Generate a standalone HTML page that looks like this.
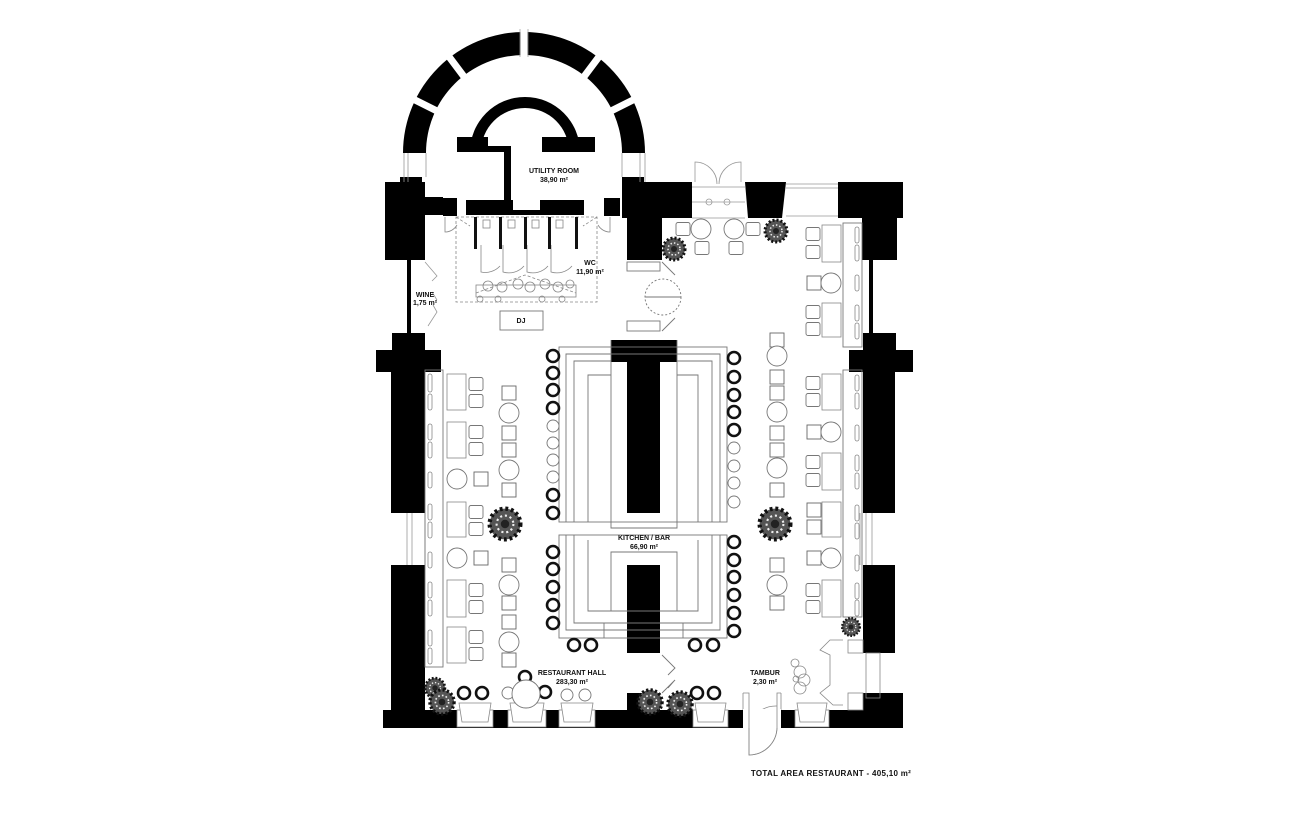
<!DOCTYPE html>
<html><head><meta charset="utf-8"><style>
html,body{margin:0;padding:0;background:#fff;width:1300px;height:813px;overflow:hidden}
svg{display:block}
text{font-family:"Liberation Sans",sans-serif;font-weight:bold;fill:#111;text-anchor:middle}
</style></head><body>
<svg width="1300" height="813" viewBox="0 0 1300 813" xmlns="http://www.w3.org/2000/svg">
<defs>
<g id="sb"><circle r="6" fill="#fff" stroke="#111" stroke-width="2.6"/></g>
<g id="st"><circle r="6" fill="#fff" stroke="#777" stroke-width="0.9"/></g>
<g id="ch"><rect x="-7" y="-6.5" width="14" height="13" rx="2" fill="#fff" stroke="#777" stroke-width="0.9"/></g>
<g id="sq"><rect x="-7" y="-7" width="14" height="14" fill="#fff" stroke="#666" stroke-width="0.9"/></g>
<g id="rt"><circle r="10" fill="#fff" stroke="#777" stroke-width="0.9"/></g>
<g id="pl"><circle r="11" fill="#555"/><circle r="11" fill="none" stroke="#111" stroke-width="3" stroke-dasharray="2 2"/><circle r="6" fill="none" stroke="#eee" stroke-width="1.5" stroke-dasharray="1.5 2"/><circle r="3" fill="#222"/></g>
</defs>
<g fill="#000">
<path d="M403,153 A121,121 0 0 1 645,153 L622,153 A98,98 0 0 0 426,153 Z"/>
<path d="M470,152 A55,55 0 0 1 580,152 L569,152 A44,44 0 0 0 481,152 Z"/>
<rect x="457" y="137" width="31" height="15"/>
<rect x="486" y="146" width="24" height="6"/>
<rect x="504" y="146" width="7" height="56"/>
<rect x="542" y="137" width="53" height="15"/>
<rect x="466" y="200" width="47" height="15"/>
<rect x="540" y="200" width="44" height="15"/>
<rect x="513" y="210" width="27" height="5"/>
<rect x="443" y="198" width="14" height="18"/>
<rect x="604" y="198" width="16" height="18"/>
<rect x="385" y="182" width="40" height="78"/>
<rect x="400" y="177" width="22" height="6"/>
<rect x="420" y="197" width="23" height="18"/>
<rect x="407" y="260" width="4" height="75"/>
<rect x="622" y="177" width="22" height="6"/>
<rect x="622" y="182" width="70" height="36"/>
<rect x="627" y="182" width="35" height="78"/>
<path d="M745,182 L786,182 L782,218 L748,218 Z"/>
<rect x="838" y="182" width="65" height="36"/>
<rect x="862" y="182" width="35" height="78"/>
<rect x="869" y="260" width="4" height="75"/>
<rect x="392" y="333" width="33" height="20"/>
<rect x="376" y="350" width="65" height="22"/>
<rect x="391" y="370" width="34" height="143"/>
<rect x="391" y="565" width="34" height="145"/>
<rect x="863" y="333" width="33" height="20"/>
<rect x="849" y="350" width="64" height="22"/>
<rect x="863" y="370" width="32" height="143"/>
<rect x="863" y="565" width="32" height="88"/>
<rect x="863" y="693" width="40" height="20"/>
<rect x="611" y="340" width="66" height="22"/>
<rect x="627" y="340" width="33" height="173"/>
<rect x="627" y="565" width="33" height="88"/>
<rect x="627" y="693" width="33" height="20"/>
<rect x="383" y="710" width="520" height="18"/>
</g>
<g stroke="#fff" stroke-width="7">
<line x1="524" y1="57" x2="524" y2="29"/>
<line x1="465" y1="78" x2="447" y2="54"/>
<line x1="583" y1="78" x2="601" y2="54"/>
<line x1="437" y1="111" x2="411" y2="98"/>
<line x1="611" y1="111" x2="637" y2="98"/>
</g>
<g stroke="#999" stroke-width="0.7">
<line x1="520" y1="57" x2="520" y2="29"/><line x1="528" y1="57" x2="528" y2="29"/>
</g>
<g fill="none" stroke="#999" stroke-width="0.8">
<line x1="404" y1="153" x2="404" y2="182"/><line x1="426" y1="153" x2="426" y2="177"/>
<line x1="408" y1="153" x2="408" y2="182"/>
<line x1="622" y1="153" x2="622" y2="177"/><line x1="645" y1="153" x2="645" y2="182"/><line x1="640" y1="153" x2="640" y2="182"/>
<line x1="786" y1="184" x2="838" y2="184"/><line x1="786" y1="188" x2="838" y2="188"/><line x1="786" y1="216" x2="838" y2="216"/>
<path d="M695,182 L695,162 A22,22 0 0 1 717,184"/>
<path d="M741,182 L741,162 A22,22 0 0 0 719,184"/>
<line x1="692" y1="187" x2="745" y2="187"/><line x1="692" y1="202" x2="745" y2="202"/><line x1="692" y1="218" x2="745" y2="218"/>
<circle cx="709" cy="202" r="3"/><circle cx="727" cy="202" r="3"/>
<path d="M425,262 L437,276 L432,281 M432,292 L437,300 M433,305 L437,312 L428,326"/>
<line x1="407" y1="513" x2="407" y2="565"/><line x1="412" y1="513" x2="412" y2="565"/><line x1="425" y1="513" x2="425" y2="565"/>
<line x1="866" y1="513" x2="866" y2="565"/><line x1="872" y1="513" x2="872" y2="565"/><line x1="860" y1="513" x2="860" y2="565"/>
</g>
<g fill="none" stroke="#888" stroke-width="0.8">
<rect x="456" y="217" width="141" height="85" stroke-dasharray="3 2"/>
<path d="M456,217 L470,226 M597,217 L583,226" stroke-dasharray="3 2"/>
<path d="M481,245 L481,272 A20,20 0 0 0 500,266"/>
<path d="M503,245 L503,272 A20,20 0 0 0 524,266"/>
<path d="M527,245 L527,272 A20,20 0 0 0 548,266"/>
<path d="M551,245 L551,272 A20,20 0 0 0 572,266"/>
<rect x="483" y="220" width="7" height="8"/><rect x="508" y="220" width="7" height="8"/><rect x="532" y="220" width="7" height="8"/><rect x="556" y="220" width="7" height="8"/>
<path d="M476,293 L525,275 L576,293" stroke-dasharray="3 2"/>
<rect x="476" y="285" width="100" height="12"/>
<circle cx="488" cy="286" r="5"/><circle cx="502" cy="287" r="5"/><circle cx="518" cy="284" r="5"/><circle cx="530" cy="287" r="5"/><circle cx="545" cy="284" r="5"/><circle cx="558" cy="287" r="5"/><circle cx="570" cy="284" r="4"/>
<circle cx="480" cy="299" r="3"/><circle cx="498" cy="299" r="3"/><circle cx="542" cy="299" r="3"/><circle cx="562" cy="299" r="3"/>
<path d="M445,217 L445,232 A14,14 0 0 0 457,225"/>
<path d="M610,217 L610,232 A14,14 0 0 1 598,225"/>
</g>
<g fill="#111"><rect x="474" y="217" width="3" height="32"/><rect x="499" y="217" width="3" height="32"/><rect x="524" y="217" width="3" height="32"/><rect x="548" y="217" width="3" height="32"/><rect x="575" y="217" width="3" height="32"/></g>
<rect x="500" y="311" width="43" height="19" fill="none" stroke="#777" stroke-width="0.9"/>
<g fill="none" stroke="#777" stroke-width="0.9">
<rect x="627" y="262" width="33" height="9"/><rect x="627" y="321" width="33" height="10"/>
<circle cx="663" cy="297" r="18" stroke-dasharray="2 2"/><line x1="645" y1="297" x2="681" y2="297"/>
<line x1="662" y1="262" x2="675" y2="275"/><line x1="662" y1="331" x2="675" y2="318"/>
<rect x="559" y="347" width="168" height="175"/>
<path d="M566,522 L566,354 L720,354 L720,522"/>
<path d="M574,522 L574,361 L611,361 M677,361 L712,361 L712,522"/>
<path d="M588,522 L588,375 L611,375 M677,375 L698,375 L698,522"/>
<path d="M611,340 L611,528 L677,528 L677,340"/>
<rect x="559" y="535" width="168" height="103"/>
<path d="M566,535 L566,630 L720,630 L720,535"/>
<path d="M574,535 L574,623 L712,623 L712,535"/>
<path d="M588,540 L588,611 L698,611 L698,540"/>
<path d="M611,611 L611,552 L677,552 L677,611"/>
<line x1="604" y1="623" x2="604" y2="638"/><line x1="683" y1="623" x2="683" y2="638"/>
<path d="M662,655 L675,668 L668,675 M668,688 L675,680 L662,693"/>
<rect x="425" y="370" width="18" height="297"/>
<rect x="843" y="223" width="19" height="124"/>
<rect x="843" y="370" width="19" height="247"/>
</g>
<g fill="none" stroke="#888" stroke-width="0.8">
<rect x="428" y="374" width="4" height="18" rx="2"/><rect x="428" y="394" width="4" height="16" rx="2"/>
<rect x="428" y="424" width="4" height="16" rx="2"/><rect x="428" y="442" width="4" height="16" rx="2"/>
<rect x="428" y="472" width="4" height="16" rx="2"/><rect x="428" y="504" width="4" height="16" rx="2"/><rect x="428" y="522" width="4" height="16" rx="2"/>
<rect x="428" y="552" width="4" height="16" rx="2"/><rect x="428" y="582" width="4" height="16" rx="2"/><rect x="428" y="600" width="4" height="16" rx="2"/><rect x="428" y="630" width="4" height="16" rx="2"/><rect x="428" y="648" width="4" height="16" rx="2"/>
<rect x="855" y="227" width="4" height="16" rx="2"/><rect x="855" y="245" width="4" height="16" rx="2"/><rect x="855" y="275" width="4" height="16" rx="2"/><rect x="855" y="305" width="4" height="16" rx="2"/><rect x="855" y="323" width="4" height="16" rx="2"/>
<rect x="855" y="375" width="4" height="16" rx="2"/><rect x="855" y="393" width="4" height="16" rx="2"/><rect x="855" y="425" width="4" height="16" rx="2"/><rect x="855" y="455" width="4" height="16" rx="2"/><rect x="855" y="473" width="4" height="16" rx="2"/><rect x="855" y="505" width="4" height="16" rx="2"/><rect x="855" y="523" width="4" height="16" rx="2"/><rect x="855" y="555" width="4" height="16" rx="2"/><rect x="855" y="583" width="4" height="16" rx="2"/><rect x="855" y="600" width="4" height="16" rx="2"/>
<rect x="447" y="374" width="19" height="36"/><rect x="447" y="422" width="19" height="36"/><rect x="447" y="502" width="19" height="35"/><rect x="447" y="580" width="19" height="37"/><rect x="447" y="627" width="19" height="36"/>
<rect x="822" y="225" width="19" height="37"/><rect x="822" y="303" width="19" height="34"/>
<rect x="822" y="374" width="19" height="36"/><rect x="822" y="453" width="19" height="37"/><rect x="822" y="502" width="19" height="35"/><rect x="822" y="580" width="19" height="37"/>
<path d="M743,693 L743,710 M781,693 L781,710"/>
<path d="M743,693 L749,693 L749,755 A28,28 0 0 0 777,728 L777,693 L781,693" />
<path d="M749,726 A28,28 0 0 1 777,706"/>
<path d="M843,640 L830,640 L820,650 L830,655 L830,685 L820,693 L833,705 L843,705"/>
<rect x="848" y="640" width="15" height="13"/><rect x="848" y="693" width="15" height="17"/>
<rect x="866" y="653" width="14" height="45"/>
<circle cx="795" cy="663" r="4"/><circle cx="800" cy="672" r="6"/><circle cx="804" cy="680" r="6"/><circle cx="796" cy="679" r="3"/><circle cx="800" cy="688" r="6"/>
</g>
<g fill="#fff" stroke="#888" stroke-width="0.8">
<rect x="457" y="710" width="36" height="17"/><rect x="508" y="710" width="38" height="17"/><rect x="559" y="710" width="36" height="17"/><rect x="693" y="710" width="35" height="17"/><rect x="795" y="710" width="34" height="17"/>
<rect x="743" y="709" width="38" height="19" stroke="none"/>
<path d="M459,703 L491,703 L488,722 L462,722 Z"/><path d="M510,703 L544,703 L541,722 L513,722 Z"/><path d="M561,703 L593,703 L590,722 L564,722 Z"/><path d="M695,703 L726,703 L723,722 L698,722 Z"/><path d="M797,703 L827,703 L824,722 L800,722 Z"/>
<path d="M749,709 L749,755 A28,28 0 0 0 777,728 L777,709" fill="none"/>
</g>
<g>
<use href="#sb" x="553" y="356"/><use href="#sb" x="553" y="373"/><use href="#sb" x="553" y="390"/><use href="#sb" x="553" y="408"/>
<use href="#st" x="553" y="426"/><use href="#st" x="553" y="443"/><use href="#st" x="553" y="460"/><use href="#st" x="553" y="477"/>
<use href="#sb" x="553" y="495"/><use href="#sb" x="553" y="513"/>
<use href="#sb" x="553" y="552"/><use href="#sb" x="553" y="569"/><use href="#sb" x="553" y="587"/><use href="#sb" x="553" y="605"/><use href="#sb" x="553" y="623"/>
<use href="#sb" x="734" y="358"/><use href="#sb" x="734" y="377"/><use href="#sb" x="734" y="395"/><use href="#sb" x="734" y="412"/><use href="#sb" x="734" y="430"/>
<use href="#st" x="734" y="448"/><use href="#st" x="734" y="466"/><use href="#st" x="734" y="483"/><use href="#st" x="734" y="502"/>
<use href="#sb" x="734" y="542"/><use href="#sb" x="734" y="560"/><use href="#sb" x="734" y="577"/><use href="#sb" x="734" y="595"/><use href="#sb" x="734" y="613"/><use href="#sb" x="734" y="631"/>
<use href="#sb" x="574" y="645"/><use href="#sb" x="591" y="645"/><use href="#sb" x="695" y="645"/><use href="#sb" x="713" y="645"/>
<use href="#sb" x="464" y="693"/><use href="#sb" x="482" y="693"/><use href="#sb" x="525" y="677"/><use href="#sb" x="545" y="692"/><use href="#st" x="508" y="693"/>
<use href="#st" x="567" y="695"/><use href="#st" x="585" y="695"/><use href="#sb" x="697" y="693"/><use href="#sb" x="714" y="693"/>
</g>
<circle cx="526" cy="694" r="14" fill="#fff" stroke="#777" stroke-width="0.9"/>
<g>
<use href="#ch" x="476" y="384"/><use href="#ch" x="476" y="401"/><use href="#ch" x="476" y="432"/><use href="#ch" x="476" y="449"/>
<use href="#sq" x="481" y="479"/><use href="#rt" x="457" y="479"/>
<use href="#ch" x="476" y="512"/><use href="#ch" x="476" y="529"/>
<use href="#sq" x="481" y="558"/><use href="#rt" x="457" y="558"/>
<use href="#ch" x="476" y="590"/><use href="#ch" x="476" y="607"/><use href="#ch" x="476" y="637"/><use href="#ch" x="476" y="654"/>
<use href="#sq" x="509" y="393"/><use href="#rt" x="509" y="413"/><use href="#sq" x="509" y="433"/><use href="#sq" x="509" y="450"/><use href="#rt" x="509" y="470"/><use href="#sq" x="509" y="490"/>
<use href="#sq" x="509" y="565"/><use href="#rt" x="509" y="585"/><use href="#sq" x="509" y="603"/><use href="#sq" x="509" y="622"/><use href="#rt" x="509" y="642"/><use href="#sq" x="509" y="660"/>
<use href="#sq" x="777" y="340"/><use href="#rt" x="777" y="356"/><use href="#sq" x="777" y="377"/><use href="#sq" x="777" y="393"/><use href="#rt" x="777" y="412"/><use href="#sq" x="777" y="433"/><use href="#sq" x="777" y="450"/><use href="#rt" x="777" y="468"/><use href="#sq" x="777" y="490"/>
<use href="#sq" x="777" y="565"/><use href="#rt" x="777" y="585"/><use href="#sq" x="777" y="603"/>
<use href="#ch" x="813" y="383"/><use href="#ch" x="813" y="400"/><use href="#sq" x="814" y="432"/><use href="#rt" x="831" y="432"/>
<use href="#ch" x="813" y="462"/><use href="#ch" x="813" y="480"/><use href="#sq" x="814" y="510"/><use href="#sq" x="814" y="527"/>
<use href="#sq" x="814" y="558"/><use href="#rt" x="831" y="558"/><use href="#ch" x="813" y="590"/><use href="#ch" x="813" y="607"/>
<use href="#ch" x="813" y="234"/><use href="#ch" x="813" y="252"/><use href="#sq" x="814" y="283"/><use href="#rt" x="831" y="283"/><use href="#ch" x="813" y="312"/><use href="#ch" x="813" y="329"/>
<use href="#ch" x="683" y="229"/><use href="#rt" x="701" y="229"/><use href="#rt" x="734" y="229"/><use href="#ch" x="753" y="229"/>
<use href="#ch" x="702" y="248"/><use href="#ch" x="736" y="248"/>
<use href="#pl" x="776" y="231"/><use href="#pl" x="674" y="249"/>
</g>
<g transform="translate(505 524) scale(1.4)"><use href="#pl"/></g>
<g transform="translate(775 524) scale(1.4)"><use href="#pl"/></g>
<g transform="translate(435 688) scale(0.9)"><use href="#pl"/></g>
<g transform="translate(442 702) scale(1.1)"><use href="#pl"/></g>
<g transform="translate(650 702) scale(1.1)"><use href="#pl"/></g>
<g transform="translate(680 704) scale(1.1)"><use href="#pl"/></g>
<g transform="translate(851 627) scale(0.8)"><use href="#pl"/></g>
<g font-size="7">
<text x="554" y="173">UTILITY ROOM</text><text x="554" y="182">38,90 m²</text>
<text x="590" y="265">WC</text><text x="590" y="274">11,90 m²</text>
<text x="425" y="297">WINE</text><text x="425" y="305">1,75 m²</text>
<text x="521" y="323">DJ</text>
<text x="644" y="540">KITCHEN / BAR</text><text x="644" y="549">66,90 m²</text>
<text x="572" y="675">RESTAURANT HALL</text><text x="572" y="684">283,30 m²</text>
<text x="765" y="675">TAMBUR</text><text x="765" y="684">2,30 m²</text>
</g>
<text x="831" y="776" font-size="8" letter-spacing="0.3">TOTAL AREA RESTAURANT - 405,10 m²</text>
</svg>
</body></html>
